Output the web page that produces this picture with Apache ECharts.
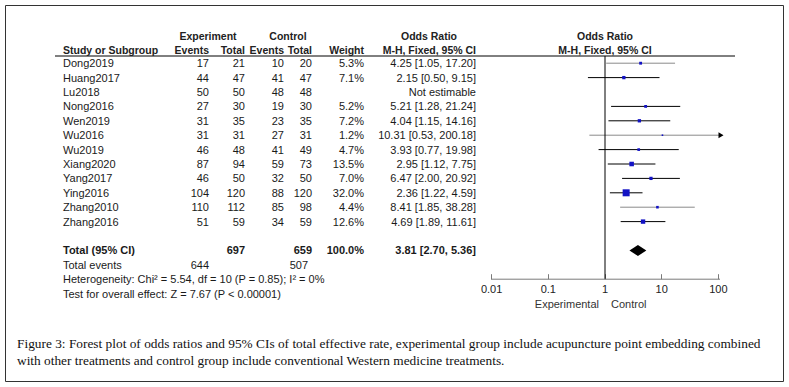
<!DOCTYPE html>
<html>
<head>
<meta charset="utf-8">
<title>Forest plot - total effective rate</title>
<script src="https://cdn.jsdelivr.net/npm/echarts@6/dist/echarts.min.js"></script>
<style>
  html, body { margin: 0; padding: 0; background: #fff; }
  #chart { width: 789px; height: 387px; }
</style>
</head>
<body>
<div id="chart"></div>
<script>
// values
const studies     = ['Dong2019', 'Huang2017', 'Lu2018', 'Nong2016', 'Wen2019', 'Wu2016', 'Wu2019', 'Xiang2020', 'Yang2017', 'Ying2016', 'Zhang2010', 'Zhang2016'];
const expEvents   = [17, 44, 50, 27, 31, 31, 46, 87, 46, 104, 110, 51];
const expTotal    = [21, 47, 50, 30, 35, 31, 48, 94, 50, 120, 112, 59];
const ctrlEvents  = [10, 41, 48, 19, 23, 27, 41, 59, 32, 88, 85, 34];
const ctrlTotal   = [20, 47, 48, 30, 35, 31, 49, 73, 50, 120, 98, 59];
const weights     = [5.3, 7.1, null, 5.2, 7.2, 1.2, 4.7, 13.5, 7.0, 32.0, 4.4, 12.6];
const oddsRatios  = [4.25, 2.15, null, 5.21, 4.04, 10.31, 3.93, 2.95, 6.47, 2.36, 8.41, 4.69];
const ciLow       = [1.05, 0.50, null, 1.28, 1.15, 0.53, 0.77, 1.12, 2.00, 1.22, 1.85, 1.89];
const ciHigh      = [17.20, 9.15, null, 21.24, 14.16, 200.18, 19.98, 7.75, 20.92, 4.59, 38.28, 11.61];

const totalOr = 3.81, totalLow = 2.70, totalHigh = 5.36;
const totalExp = 697, totalCtrl = 659;
const totalEventsExp = 644, totalEventsCtrl = 507;
const heterogeneity = 'Heterogeneity: Chi² = 5.54, df = 10 (P = 0.85); I² = 0%';
const overallTest = 'Test for overall effect: Z = 7.67 (P < 0.00001)';
const xTicks = [0.01, 0.1, 1, 10, 100];

// layout
const rowGap = 14.4;
const headTop = 56;          // header rule
const sans = 'Liberation Sans, Arial, sans-serif';
const greyRows = ['Dong2019', 'Wu2016', 'Zhang2010'];   // CI drawn in light grey in the original
// text columns: x and alignment
const cols = [
  {x: 63, align: 'left'},
  {x: 209, align: 'right'},
  {x: 245, align: 'right'},
  {x: 284, align: 'right'},
  {x: 312, align: 'right'},
  {x: 364, align: 'right'},
  {x: 476, align: 'right'}
];

function fmtCi(or, lo, hi) {
  return or.toFixed(2) + ' [' + lo.toFixed(2) + ', ' + hi.toFixed(2) + ']';
}

// rows of the left table
const tableRows = studies.map((s, i) => ({
  row: i,
  bold: false,
  cells: [
    s, expEvents[i], expTotal[i], ctrlEvents[i], ctrlTotal[i],
    weights[i] == null ? '' : weights[i].toFixed(1) + '%',
    oddsRatios[i] == null ? 'Not estimable' : fmtCi(oddsRatios[i], ciLow[i], ciHigh[i])
  ]
}));
tableRows.push({row: 13, bold: true, cells: ['Total (95% CI)', '', totalExp, '', totalCtrl, '100.0%', fmtCi(totalOr, totalLow, totalHigh)]});
tableRows.push({row: 14, bold: false, cells: ['Total events', totalEventsExp], extra: {x: 308, text: totalEventsCtrl}});
tableRows.push({row: 15, bold: false, cells: [heterogeneity]});
tableRows.push({row: 16, bold: false, cells: [overallTest]});

// forest data, skipping the study that is not estimable
const forestData = [];
studies.forEach((s, i) => {
  if (oddsRatios[i] == null) return;
  forestData.push([ciLow[i], ciHigh[i], oddsRatios[i], i, weights[i]]);
});

function headText(text, x, y, align, bold) {
  return {
    type: 'text', x: x, y: y,
    style: {
      text: text, fontSize: bold ? 10.5 : 11, fontWeight: bold ? 'bold' : 'normal', fontFamily: sans,
      fill: bold ? '#222' : '#333', align: align, verticalAlign: 'middle'
    }
  };
}

const chart = echarts.init(document.getElementById('chart'), null, {renderer: 'svg'});

const option = {
  animation: false,
  grid: [
    {left: 0, top: headTop, width: 789, height: rowGap * 17},
    {left: 491.6, top: headTop, width: 226.8, height: rowGap * 15.5}
  ],
  xAxis: [
    {gridIndex: 0, type: 'value', min: 0, max: 789, show: false},
    {
      gridIndex: 1, type: 'log', logBase: 10, min: 0.01, max: 100,
      axisLine: {show: false, onZero: false},
      axisTick: {inside: true, length: 5, lineStyle: {color: '#7a7a7a'}},
      axisLabel: {
        color: '#222', fontSize: 11, fontFamily: sans, margin: 4,
        formatter: v => {
          const t = xTicks.find(t => Math.abs(Math.log10(t) - Math.log10(v)) < 1e-6);
          return t == null ? '' : String(t);
        }
      },
      splitLine: {show: false}
    }
  ],
  yAxis: [
    {gridIndex: 0, type: 'value', inverse: true, min: -0.5, max: 16.5, show: false},
    {gridIndex: 1, type: 'value', inverse: true, min: -0.5, max: 15, show: false}
  ],
  series: [
    {
      // table text
      type: 'custom',
      xAxisIndex: 0, yAxisIndex: 0,
      data: tableRows.map(r => [r.row]),
      renderItem: (params, api) => {
        const r = tableRows[params.dataIndex];
        const y = api.coord([0, r.row])[1];
        const children = [];
        r.cells.forEach((c, k) => {
          if (c === '' || c == null) return;
          children.push({
            type: 'text', x: cols[k].x, y: y,
            style: {
              text: String(c), fill: '#1a1a1a', fontSize: 11, fontFamily: sans,
              fontWeight: r.bold ? 'bold' : 'normal',
              align: cols[k].align, verticalAlign: 'middle'
            }
          });
        });
        if (r.extra) {
          children.push({
            type: 'text', x: r.extra.x, y: y,
            style: {text: String(r.extra.text), fill: '#1a1a1a', fontSize: 11, fontFamily: sans, align: 'right', verticalAlign: 'middle'}
          });
        }
        return {type: 'group', children: children};
      }
    },
    {
      // line of no effect
      type: 'line', xAxisIndex: 1, yAxisIndex: 1,
      data: [[1, -0.5], [1, 15]],
      symbol: 'none', clip: false,
      lineStyle: {color: '#000', width: 1}
    },
    {
      // axis base line, a little wider than the tick range
      type: 'line', xAxisIndex: 1, yAxisIndex: 1,
      data: [[0.0082, 15], [134, 15]],
      symbol: 'none', clip: false,
      lineStyle: {color: '#7a7a7a', width: 1}
    },
    {
      // study CIs and boxes
      type: 'custom', xAxisIndex: 1, yAxisIndex: 1,
      data: forestData,
      renderItem: (params, api) => {
        const lo = api.value(0), hi = api.value(1), or = api.value(2), row = api.value(3), w = api.value(4);
        const cut = hi > 100;
        const p0 = api.coord([lo, row]);
        const p1 = api.coord([cut ? 118 : hi, row]);
        const pc = api.coord([or, row]);
        const grey = greyRows.indexOf(studies[row]) >= 0;
        const col = grey ? '#8a8a8a' : '#000';
        const size = Math.max(1.6, 7 * Math.sqrt(w / 32));
        const children = [{
          type: 'line',
          shape: {x1: p0[0], y1: p0[1], x2: p1[0], y2: p1[1]},
          style: {stroke: col, lineWidth: 1}
        }];
        if (cut) {
          children.push({
            type: 'polygon',
            shape: {points: [[p1[0] - 4, p1[1] - 3], [p1[0] + 1, p1[1]], [p1[0] - 4, p1[1] + 3]]},
            style: {fill: '#000'}
          });
        }
        children.push({
          type: 'rect',
          shape: {x: pc[0] - size / 2, y: pc[1] - size / 2, width: size, height: size},
          style: {fill: '#1212c4'}
        });
        return {type: 'group', children: children};
      }
    },
    {
      // pooled estimate
      type: 'custom', xAxisIndex: 1, yAxisIndex: 1,
      data: [[totalLow, totalHigh, totalOr, 13]],
      renderItem: (params, api) => {
        const row = api.value(3);
        const a = api.coord([api.value(0), row]);
        const b = api.coord([api.value(1), row]);
        const c = api.coord([api.value(2), row]);
        return {
          type: 'polygon',
          shape: {points: [[a[0], a[1]], [c[0], c[1] - 5.5], [b[0], b[1]], [c[0], c[1] + 5.5]]},
          style: {fill: '#000'}
        };
      }
    }
  ],
  graphic: [
    {type: 'rect', shape: {x: 5.5, y: 5.5, width: 778, height: 376}, style: {fill: 'none', stroke: '#333', lineWidth: 1}},
    {type: 'line', shape: {x1: 55, y1: headTop, x2: 735, y2: headTop}, style: {stroke: '#000', lineWidth: 1}},
    // header, first line
    headText('Experiment', 208, 36, 'center', true),
    headText('Control', 288, 36, 'center', true),
    headText('Odds Ratio', 429, 36, 'center', true),
    headText('Odds Ratio', 605, 36, 'center', true),
    // header, second line
    headText('Study or Subgroup', 63, 50, 'left', true),
    headText('Events', 209, 50, 'right', true),
    headText('Total', 245, 50, 'right', true),
    headText('Events', 284, 50, 'right', true),
    headText('Total', 312, 50, 'right', true),
    headText('Weight', 364, 50, 'right', true),
    headText('M-H, Fixed, 95% CI', 476, 50, 'right', true),
    headText('M-H, Fixed, 95% CI', 605, 50, 'center', true),
    // favours labels
    headText('Experimental', 599, 304, 'right', false),
    headText('Control', 611, 304, 'left', false),
    // caption
    {type: 'text', x: 17, y: 343, style: {text: 'Figure 3: Forest plot of odds ratios and 95% CIs of total effective rate, experimental group include acupuncture point embedding combined', fontSize: 13.35, fontFamily: 'Liberation Serif, serif', fill: '#111', align: 'left', verticalAlign: 'middle'}},
    {type: 'text', x: 17, y: 360, style: {text: 'with other treatments and control group include conventional Western medicine treatments.', fontSize: 13.35, fontFamily: 'Liberation Serif, serif', fill: '#111', align: 'left', verticalAlign: 'middle'}}
  ]
};

chart.setOption(option);
</script>
</body>
</html>
